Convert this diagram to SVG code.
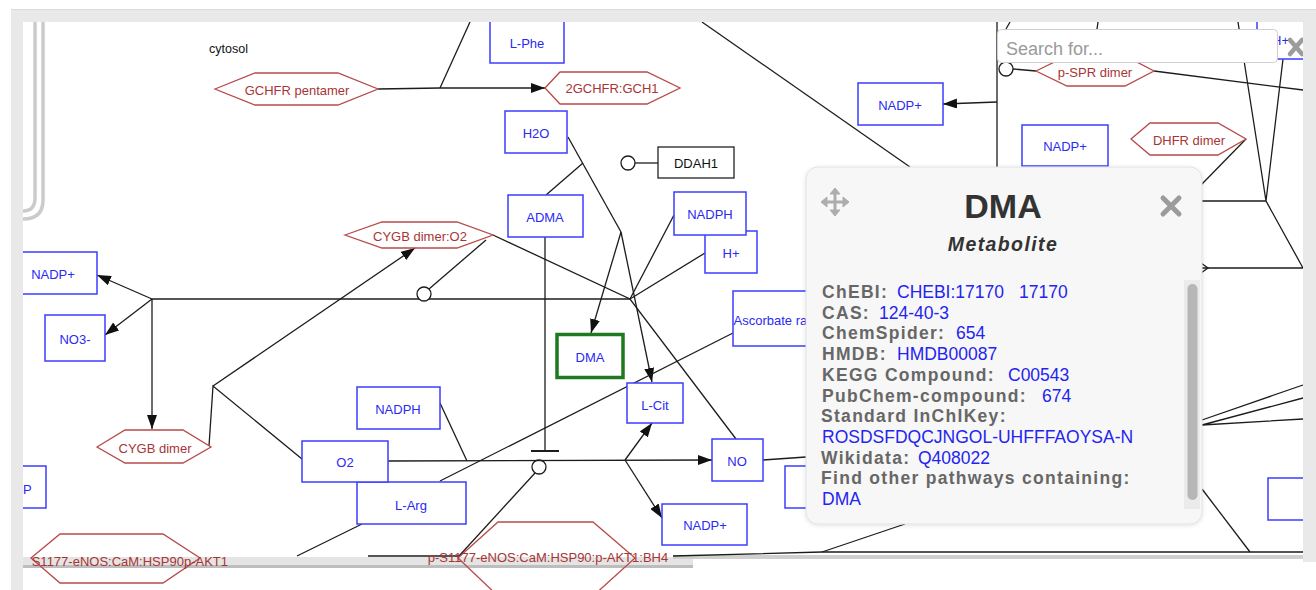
<svg xmlns="http://www.w3.org/2000/svg" width="1316" height="590" viewBox="0 0 1316 590">
<defs>
<style>
.box{fill:#fff;stroke:#3c3cff;stroke-width:1.5}
.bt{font-family:"Liberation Sans",Arial,sans-serif;font-size:13px;fill:#2a2af2;text-anchor:middle}
.hex{fill:#fff;stroke:#b84a4a;stroke-width:1.3}
.hexn{fill:none;stroke:#b84a4a;stroke-width:1.3}
.ht{font-family:"Liberation Sans",Arial,sans-serif;font-size:13px;fill:#a83535;text-anchor:middle}
.ln{fill:none;stroke:#1c1c1c;stroke-width:1.3}
.arr{marker-end:url(#arr)}
.cir{fill:#fff;stroke:#1c1c1c;stroke-width:1.3}
.lab{font-family:"Liberation Sans",Arial,sans-serif;font-weight:bold;font-size:17.5px;letter-spacing:1.3px;fill:#676767}
.val{font-family:"Liberation Sans",Arial,sans-serif;font-weight:normal;font-size:17.5px;letter-spacing:0;fill:#2424f0}
.cmp{fill:none;stroke:#cbcbcb;stroke-width:3.5}
.frame{fill:#e9e9e9}
</style>
<marker id="arr" viewBox="0 0 14 10" refX="14" refY="5" markerWidth="14" markerHeight="10" orient="auto" markerUnits="userSpaceOnUse">
<path d="M0,0 L14,5 L0,10 z" fill="#111"/>
</marker>
<filter id="sh" x="-5%" y="-5%" width="110%" height="110%">
<feDropShadow dx="0" dy="1" stdDeviation="2" flood-color="#000" flood-opacity="0.12"/>
</filter>
</defs>
<rect x="0" y="0" width="1316" height="590" fill="#fff"/>

<g id="compartment">
<path class="cmp" d="M35,22 V198 Q35,211 23,211"/>
<path class="cmp" d="M43,22 V200 Q43,219 23,219"/>
<rect x="23" y="557" width="670" height="11" fill="#e4e4e4"/>
<line x1="23" y1="566.5" x2="693" y2="566.5" stroke="#bdbdbd" stroke-width="3"/>
<line x1="673" y1="557" x2="1303" y2="557" stroke="#cfcfcf" stroke-width="4"/>
<text x="209" y="53" font-family="Liberation Sans, Arial, sans-serif" font-size="12.5" fill="#111">cytosol</text>
</g>

<g id="connectors">
<path class="ln" d="M470,22 L440,88"/>
<path class="ln" d="M378,89 L440,88"/>
<path class="ln arr" d="M440,88 L545,88"/>
<path class="ln" d="M568,137 L621,232"/>
<path class="ln" d="M546,195 L583,163"/>
<path class="ln arr" d="M621,232 L591,333"/>
<path class="ln arr" d="M621,232 L652,382"/>
<path class="ln" d="M674,215 L630,299"/>
<path class="ln" d="M705,253 L630,299"/>
<path class="ln" d="M152,299 L630,299"/>
<path class="ln" d="M493,235 L630,299 L736,439"/>
<path class="ln arr" d="M152,299 L97,275"/>
<path class="ln arr" d="M152,299 L105,335"/>
<path class="ln arr" d="M152,299 L152,429"/>
<path class="ln" d="M209,446 L213,386 L302,459"/>
<path class="ln arr" d="M213,386 L415,248"/>
<path class="ln" d="M429,289 L486,240"/>
<circle class="cir" cx="424" cy="294" r="7"/>
<path class="ln" d="M545,237 L545,451"/>
<path d="M531,451 L559,451" stroke="#1c1c1c" stroke-width="2"/>
<path class="ln" d="M535,473 L459,556"/>
<circle class="cir" cx="539" cy="467" r="7"/>
<path class="ln arr" d="M388,461 L712,460"/>
<path class="ln" d="M440,403 L467,461"/>
<path class="ln arr" d="M625,460 L652,423"/>
<path class="ln arr" d="M625,460 L662,518"/>
<path class="ln" d="M733,333 L440,481"/>
<path class="ln" d="M362,524 L297,556"/>
<path class="ln" d="M368,556 L459,556" stroke-width="0.8"/>
<path class="ln" d="M763,460 L806,457"/>
<path class="ln" d="M635,163 L658,163"/>
<circle class="cir" cx="628" cy="163" r="7"/>
<path class="ln" d="M702,22 L910,167"/>
<path class="ln" d="M997,22 L997,167"/>
<path class="ln arr" d="M997,102 L943,104"/>
<path class="ln" d="M1013,69 L1036,71"/>
<circle class="cir" cx="1006" cy="69" r="7"/>
<path class="ln" d="M1154,71 L1303,90"/>
<path class="ln" d="M1246,139 L1201,185"/>
<path class="ln" d="M1238,22 L1266,201 M1283,59 L1266,201 M1201,201 L1266,201 L1303,268 M1201,268 L1303,268"/>
<path class="ln" d="M1201,263 L1208,268 L1201,273"/>
<path class="ln" d="M1010,22 L1006,29 M1098,22 L1097,29"/>
<path class="ln" d="M1202,420 L1303,385 M1202,425 L1303,398 M1202,425 L1303,419"/>
<path class="ln" d="M1202,489 L1250,552"/>
<path class="ln" d="M905,524 L822,552"/>
<path class="ln" d="M673,556 L822,552 L1303,552"/>
</g>

<g id="n-lphe"><rect class="box" x="490" y="12" width="74" height="51"/><text class="bt" x="527" y="48">L-Phe</text></g>
<g id="n-gchfr"><polygon class="hex" points="215,89 255,73 338,73 378,89 338,105 255,105"/><text class="ht" x="297" y="94.5">GCHFR pentamer</text></g>
<g id="n-2gchfr"><polygon class="hex" points="545,88 560,72 647,72 680,88 647,104 560,104"/><text class="ht" x="612" y="92.5">2GCHFR:GCH1</text></g>
<g id="n-h2o"><rect class="box" x="505" y="111" width="62" height="42"/><text class="bt" x="536" y="137.5">H2O</text></g>
<g id="n-ddah1"><rect x="658" y="147" width="76" height="31" fill="#fff" stroke="#222" stroke-width="1.3"/><text class="bt" x="696" y="167.5" style="fill:#111">DDAH1</text></g>
<g id="n-adma"><rect class="box" x="508" y="195" width="75" height="42"/><text class="bt" x="545" y="221.5">ADMA</text></g>
<g id="n-hplus"><rect class="box" x="705" y="231" width="52" height="42"/><text class="bt" x="731" y="257.5">H+</text></g>
<g id="n-nadph1"><rect class="box" x="674" y="192" width="72" height="43"/><text class="bt" x="710" y="218.5">NADPH</text></g>
<g id="n-cygbo2"><polygon class="hex" points="345,235 382,222 457,222 493,235 457,248 382,248"/><text class="ht" x="420" y="240.5">CYGB dimer:O2</text></g>
<g id="n-nadp1"><rect class="box" x="10" y="252" width="87" height="42"/><text class="bt" x="53" y="278.5">NADP+</text></g>
<g id="n-no3"><rect class="box" x="45" y="315" width="60" height="46"/><text class="bt" x="75" y="344">NO3-</text></g>
<g id="n-dma"><rect x="557" y="334.5" width="66" height="43" fill="#fff" stroke="#1f7a1f" stroke-width="3.5"/><text class="bt" x="590" y="361.5">DMA</text></g>
<g id="n-asc"><rect class="box" x="733" y="291" width="90" height="55"/><text class="bt" x="733.5" y="324.5" style="text-anchor:start">Ascorbate ra</text></g>
<g id="n-cygb"><polygon class="hex" points="97,447 125,430 183,430 211,447 183,463 125,463"/><text class="ht" x="155" y="452.5">CYGB dimer</text></g>
<g id="n-nadph2"><rect class="box" x="357" y="387" width="83" height="42"/><text class="bt" x="398" y="413.5">NADPH</text></g>
<g id="n-larg"><rect class="box" x="357" y="482" width="109" height="42"/><text class="bt" x="411" y="510">L-Arg</text></g>
<g id="n-o2"><rect class="box" x="302" y="441" width="86" height="41"/><text class="bt" x="345" y="467">O2</text></g>
<g id="n-lcit"><rect class="box" x="627" y="383" width="56" height="40"/><text class="bt" x="655" y="409.5">L-Cit</text></g>
<g id="n-no"><rect class="box" x="712" y="439" width="51" height="42"/><text class="bt" x="737" y="465.5">NO</text></g>
<g id="n-nadp2"><rect class="box" x="662" y="504" width="85" height="41"/><text class="bt" x="705" y="530">NADP+</text></g>
<g id="n-nadp3"><rect class="box" x="858" y="83" width="85" height="42"/><text class="bt" x="900" y="109.5">NADP+</text></g>
<g id="n-nadp4"><rect class="box" x="1022" y="125" width="86" height="41"/><text class="bt" x="1065" y="150.5">NADP+</text></g>
<g id="n-pspr"><polygon class="hex" points="1036,71 1067,56 1125,56 1154,71 1125,86 1067,86"/><text class="ht" x="1095" y="76.5">p-SPR dimer</text></g>
<g id="n-dhfr"><polygon class="hex" points="1131,139 1150,123 1218,123 1246,139 1218,155 1150,155"/><text class="ht" x="1189" y="144.5">DHFR dimer</text></g>
<g id="n-hplus2"><rect class="box" x="1257" y="10" width="52" height="49"/><text class="bt" x="1272" y="45" style="text-anchor:start">H+</text></g>
<g id="n-p"><rect class="box" x="8" y="466" width="38" height="42"/><text class="bt" x="23" y="494" style="text-anchor:start">P</text></g>
<g id="n-hidden1"><rect class="box" x="785" y="466" width="40" height="42"/></g>
<g id="n-hidden2"><rect class="box" x="1268" y="478" width="40" height="42"/></g>
<g id="n-enos1"><polygon class="hexn" points="31,558 60,534 163,534 200,558 163,583 60,583"/><text class="ht" x="228" y="566" style="text-anchor:end">S1177-eNOS:CaM:HSP90p-AKT1</text></g>
<g id="n-enos2"><polygon class="hexn" points="458,558 498,522 593,522 635,558 593,596 498,596"/><text class="ht" x="548" y="562">p-S1177-eNOS:CaM:HSP90:p-AKT1:BH4</text></g>

<g id="popup">
<rect x="806" y="167" width="396" height="357" rx="12" fill="#f7f7f7" stroke="#e2e2e2" filter="url(#sh)"/>
<g fill="#adadad" stroke="#adadad" stroke-width="3">
<path d="M824,202 H846 M835,191 V213" fill="none"/>
<path d="M821,202 l6,-5 v10 z M849,202 l-6,-5 v10 z M835,188 l-5,6 h10 z M835,216 l-5,-6 h10 z" stroke-width="1"/>
</g>
<path d="M1163,198 L1179,214 M1179,198 L1163,214" stroke="#9c9c9c" stroke-width="5" stroke-linecap="round"/>
<text x="1003" y="218" text-anchor="middle" font-family="Liberation Sans, Arial, sans-serif" font-weight="bold" font-size="34" fill="#333">DMA</text>
<text x="1003" y="251" text-anchor="middle" font-family="Liberation Sans, Arial, sans-serif" font-weight="bold" font-style="italic" font-size="19.5" letter-spacing="1.4" fill="#333">Metabolite</text>
<rect x="1184" y="280" width="16" height="229" fill="#ebebeb"/>
<rect x="1187.5" y="284" width="10" height="216" rx="5" fill="#b6b6b6"/>
<text class="lab" x="822" y="298">ChEBI:<tspan class="val" x="897">CHEBI:17170</tspan><tspan class="val" x="1019">17170</tspan></text>
<text class="lab" x="822" y="319">CAS:<tspan class="val" x="879">124-40-3</tspan></text>
<text class="lab" x="822" y="339">ChemSpider:<tspan class="val" x="956">654</tspan></text>
<text class="lab" x="822" y="360">HMDB:<tspan class="val" x="897">HMDB00087</tspan></text>
<text class="lab" x="822" y="381">KEGG Compound:<tspan class="val" x="1008">C00543</tspan></text>
<text class="lab" x="822" y="402">PubChem-compound:<tspan class="val" x="1042">674</tspan></text>
<text class="lab" x="821" y="422">Standard InChIKey:</text>
<text class="val" x="822" y="443">ROSDSFDQCJNGOL-UHFFFAOYSA-N</text>
<text class="lab" x="821" y="464">Wikidata:<tspan class="val" x="918">Q408022</tspan></text>
<text class="lab" x="821" y="484">Find other pathways containing:</text>
<text class="val" x="822" y="505">DMA</text>
</g>

<g id="search">
<rect x="997.5" y="29.5" width="280" height="33" rx="4" fill="#fff" stroke="#cfcfcf"/>
<text x="1006" y="55" font-family="Liberation Sans, Arial, sans-serif" font-size="18" fill="#9a9a9a">Search for...</text>
<path d="M1290,40 L1302,54 M1302,40 L1290,54" stroke="#9c9c9c" stroke-width="4.5" stroke-linecap="round"/>
</g>

<g id="frame">
<rect x="0" y="0" width="1316" height="9" fill="#fff"/>
<rect x="0" y="0" width="11" height="590" fill="#fff"/>
<rect class="frame" x="11" y="9" width="1305" height="13"/>
<rect class="frame" x="11" y="9" width="12" height="581"/>
<rect class="frame" x="1303" y="9" width="13" height="553"/>
<line x1="11" y1="9.5" x2="1316" y2="9.5" stroke="#dadada"/>
</g>
</svg>
